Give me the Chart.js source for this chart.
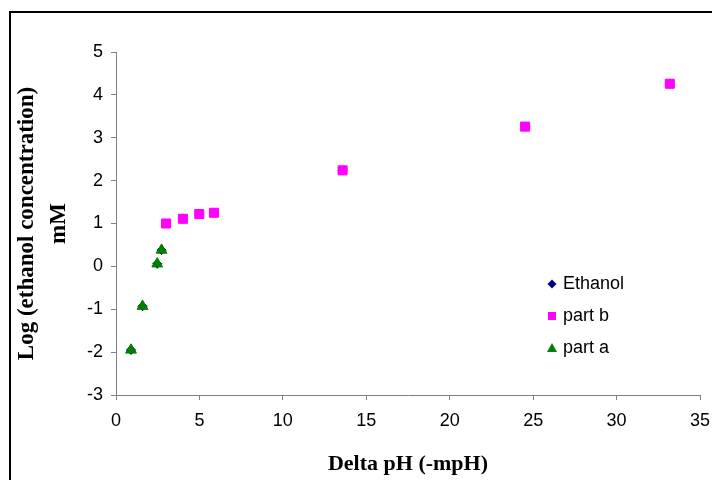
<!DOCTYPE html>
<html>
<head>
<meta charset="utf-8">
<script src="https://cdn.jsdelivr.net/npm/chart.js@4.4.1/dist/chart.umd.min.js"></script>
<style>
  html, body { margin: 0; padding: 0; background: #fff; }
  canvas { display: block; }
</style>
</head>
<body>
<canvas id="chart" width="712" height="480"></canvas>
<script>
// data
const seriesNames = ["Ethanol", "part b", "part a"];
const ethanolX = [0.9, 1.59, 2.47, 2.73, 3.0, 4.01, 4.99, 5.87, 13.58, 24.52, 33.19];
const ethanolY = [-1.95, -0.93, 0.06, 0.38, 1.0, 1.11, 1.22, 1.25, 2.24, 3.26, 4.26];
const partBX = [3.0, 4.01, 4.99, 5.87, 13.58, 24.52, 33.19];
const partBY = [1.0, 1.11, 1.22, 1.25, 2.24, 3.26, 4.26];
const partAX = [0.9, 1.59, 2.47, 2.73];
const partAY = [-1.95, -0.93, 0.06, 0.38];
const xTicks = [0, 5, 10, 15, 20, 25, 30, 35];
const yTicks = [-3, -2, -1, 0, 1, 2, 3, 4, 5];
const xTitle = "Delta pH (-mpH)";
const yTitle = ["Log (ethanol concentration)", "mM"];

function toPoints(xs, ys) {
  return xs.map((x, i) => ({ x: x, y: ys[i] }));
}

const axisGray = "#808080";
const tickFont = { family: "'Liberation Sans', Arial, sans-serif", size: 18 };

// white page + frame line
const framePlugin = {
  id: "frame",
  beforeDraw(chart) {
    const ctx = chart.ctx;
    ctx.save();
    ctx.fillStyle = "#fff";
    ctx.fillRect(0, 0, chart.width, chart.height);
    ctx.strokeStyle = "#000";
    ctx.lineWidth = 2;
    ctx.beginPath();
    ctx.moveTo(10, chart.height + 2);
    ctx.lineTo(10, 12);
    ctx.lineTo(chart.width + 2, 12);
    ctx.stroke();
    ctx.restore();
  }
};

// legend sits inside the plot, like the original
function drawMarker(ctx, style, x, y, color) {
  ctx.fillStyle = color;
  ctx.beginPath();
  if (style === "rectRot") {
    ctx.moveTo(x, y - 4.5);
    ctx.lineTo(x + 4.5, y);
    ctx.lineTo(x, y + 4.5);
    ctx.lineTo(x - 4.5, y);
  } else if (style === "rect") {
    ctx.rect(x - 4, y - 4, 8, 8);
  } else {
    ctx.moveTo(x, y - 5);
    ctx.lineTo(x + 5, y + 4);
    ctx.lineTo(x - 5, y + 4);
  }
  ctx.closePath();
  ctx.fill();
}

const legendPlugin = {
  id: "insideLegend",
  afterDraw(chart) {
    const ctx = chart.ctx;
    ctx.save();
    ctx.font = "18px 'Liberation Sans', Arial, sans-serif";
    ctx.textBaseline = "middle";
    chart.data.datasets.forEach((ds, i) => {
      const y = 284 + i * 32;
      drawMarker(ctx, ds.pointStyle, 552, y, ds.backgroundColor);
      ctx.fillStyle = "#000";
      ctx.fillText(ds.label, 563, y);
    });
    ctx.restore();
  }
};

const chart = new Chart(document.getElementById("chart"), {
  type: "scatter",
  data: {
    datasets: [{
      label: seriesNames[0],
      data: toPoints(ethanolX, ethanolY),
      pointStyle: "rectRot",
      backgroundColor: "#000080",
      borderColor: "#000080",
      pointRadius: 4.5,
      order: 3
    }, {
      label: seriesNames[1],
      data: toPoints(partBX, partBY),
      pointStyle: "rect",
      backgroundColor: "#ff00ff",
      borderColor: "#ff00ff",
      pointRadius: 6.4,
      order: 2
    }, {
      label: seriesNames[2],
      data: toPoints(partAX, partAY),
      pointStyle: "triangle",
      backgroundColor: "#008000",
      borderColor: "#008000",
      pointRadius: 6.2,
      order: 1
    }]
  },
  options: {
    responsive: false,
    animation: false,
    layout: {
      padding: { left: 0, top: 52, right: 12, bottom: 0 }
    },
    plugins: {
      legend: { display: false },
      tooltip: { enabled: false }
    },
    scales: {
      x: {
        type: "linear",
        min: xTicks[0],
        max: xTicks[xTicks.length - 1],
        afterBuildTicks: (scale) => { scale.ticks = xTicks.map(v => ({ value: v })); },
        afterFit: (scale) => {
          scale.height = 85;
          scale.paddingLeft = 0;
          scale.paddingRight = 0;
        },
        grid: { drawOnChartArea: false, drawTicks: true, tickLength: 5, color: axisGray },
        border: { color: axisGray, width: 1 },
        ticks: { color: "#000", font: tickFont, padding: 10, maxRotation: 0 },
        title: {
          display: true,
          text: xTitle,
          color: "#000",
          font: { family: "'Liberation Serif', 'Times New Roman', serif", size: 22, weight: "bold" },
          padding: { top: 0, bottom: 2 }
        }
      },
      y: {
        type: "linear",
        min: yTicks[0],
        max: yTicks[yTicks.length - 1],
        afterBuildTicks: (scale) => { scale.ticks = yTicks.map(v => ({ value: v })); },
        afterFit: (scale) => {
          scale.width = 116;
          scale.paddingTop = 0;
          scale.paddingBottom = 0;
        },
        grid: { drawOnChartArea: false, drawTicks: true, tickLength: 5, color: axisGray },
        border: { color: axisGray, width: 1 },
        ticks: { color: "#000", font: tickFont, padding: 8 },
        title: {
          display: true,
          text: yTitle,
          color: "#000",
          font: { family: "'Liberation Serif', 'Times New Roman', serif", size: 23, weight: "bold", lineHeight: 1.35 },
          padding: { top: 12, bottom: 0 }
        }
      }
    }
  },
  plugins: [framePlugin, legendPlugin]
});
</script>
</body>
</html>
